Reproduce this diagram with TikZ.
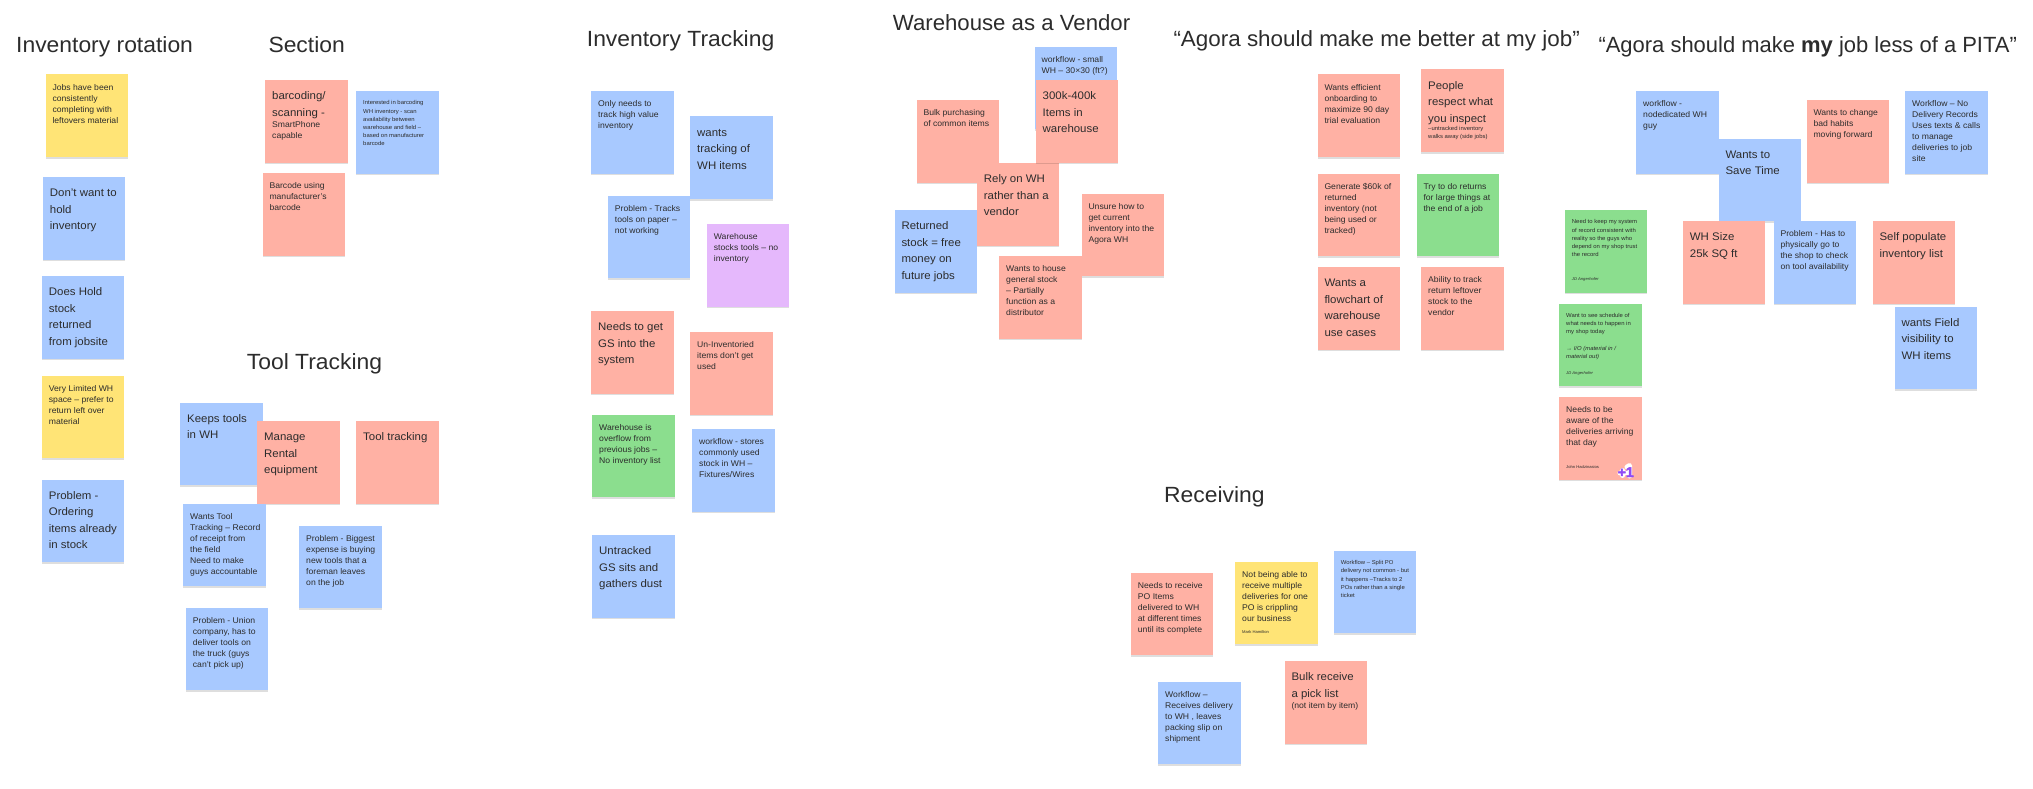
\documentclass[tikz,border=0pt]{standalone}
\usepackage{fontspec}
\setmainfont[FakeStretch=1.04]{Liberation Sans}
\newfontfamily\badgefont[FakeBold=3]{Liberation Sans Bold}
\usetikzlibrary{shadows}
\definecolor{nblue}{HTML}{A8C9FF}
\definecolor{nred}{HTML}{FFB1A4}
\definecolor{nyellow}{HTML}{FFE476}
\definecolor{ngreen}{HTML}{8BDE8E}
\definecolor{npurple}{HTML}{E5B8FC}
\definecolor{ink}{HTML}{2C2C2C}
\definecolor{badge}{HTML}{8F4BF5}
\newcommand{\szT}{\fontsize{22}{26}\selectfont}
\newcommand{\szL}{\fontsize{11}{16.5}\selectfont}
\newcommand{\szM}{\fontsize{8.3}{11}\selectfont}
\newcommand{\szS}{\fontsize{5.7}{8.2}\selectfont}
\newcommand{\szA}{\fontsize{4}{5}\selectfont}
\tikzset{
  sticky/.style={anchor=north west,rectangle,inner xsep=7pt,inner ysep=8pt,
    minimum width=82.5pt,minimum height=82.5pt,text=ink,
    drop shadow={shadow xshift=0pt,shadow yshift=-1.5pt,opacity=.13,fill=black}},
  title/.style={anchor=base west,inner sep=0pt,text=ink,font=\szT},
}
% name, colour, x, y, size, text
\newcommand{\note}[6]{\node[sticky,fill=#2] (#1) at (#3,#4)
  {\makebox[68.5pt][l]{\parbox[t][66.5pt][t]{80pt}{\raggedright #5\strut #6}}};}
\begin{document}
\begin{tikzpicture}[x=1pt,y=-1pt]
\useasboundingbox[fill=white] (0,0) rectangle (2033,789);
% titles
\node[title] (t1) at (16,52.3) {Inventory rotation};
\node[title] (t2) at (268.3,52.3) {Section};
\node[title] (t3) at (246.7,369.3) {Tool Tracking};
\node[title] (t4) at (586.7,46.7) {Inventory Tracking};
\node[title] (t5) at (892.7,30.3) {\scalebox{.97}[1]{Warehouse as a Vendor}};
\node[title] (t6) at (1173.3,46.7) {\scalebox{.98}[1]{“Agora should make me better at my job”}};
\node[title] (t7) at (1598.3,52.3) {\scalebox{.96}[1]{“Agora should make \textbf{my} job less of a PITA”}};
\node[title] (t8) at (1164,502.7) {Receiving};
% Inventory rotation
\note{a1}{nyellow}{45.3}{74.3}{\szM}{Jobs have been\\consistently\\completing with\\leftovers material}
\note{a2}{nblue}{42.7}{177}{\szL}{Don’t want to\\hold\\inventory}
\note{a3}{nblue}{41.7}{276}{\szL}{Does Hold\\stock\\returned\\from jobsite}
\note{a4}{nyellow}{41.7}{375.3}{\szM}{Very Limited WH\\space – prefer to\\return left over\\material}
\note{a5}{nblue}{41.7}{479.3}{\szL}{Problem -\\Ordering\\items already\\in stock}
% Section
\note{b1}{nred}{265}{80}{\szL}{barcoding/\\scanning -\par\szM SmartPhone\\capable}
\note{b2}{nblue}{356}{91}{\szS}{Interested in barcoding\\WH inventory - scan\\availability between\\warehouse and field –\\based on manufacturer\\barcode}
\note{b3}{nred}{262.3}{173}{\szM}{Barcode using\\manufacturer’s\\barcode}
% Tool tracking
\note{c1}{nblue}{180}{402.3}{\szL}{Keeps tools\\in WH}
\note{c2}{nred}{257}{421}{\szL}{Manage\\Rental\\equipment}
\note{c3}{nred}{356}{421}{\szL}{Tool tracking}
\note{c4}{nblue}{183}{503.3}{\szM}{Wants Tool\\Tracking – Record\\of receipt from\\the field\\Need to make\\guys accountable}
\note{c5}{nblue}{299}{525.3}{\szM}{Problem - Biggest\\expense is buying\\new tools that a\\foreman leaves\\on the job}
\note{c6}{nblue}{185.7}{607.7}{\szM}{Problem - Union\\company, has to\\deliver tools on\\the truck (guys\\can’t pick up)}
% Inventory Tracking
\note{d1}{nblue}{591}{91}{\szM}{Only needs to\\track high value\\inventory}
\note{d3}{nblue}{607.7}{195.3}{\szM}{Problem - Tracks\\tools on paper –\\not working}
\note{d2}{nblue}{690}{116.3}{\szL}{wants\\tracking of\\WH items}
\note{d4}{npurple}{706.7}{224}{\szM}{Warehouse\\stocks tools – no\\inventory}
\note{d5}{nred}{591}{311}{\szL}{Needs to get\\GS into the\\system}
\note{d6}{nred}{690}{332}{\szM}{Un-Inventoried\\items don’t get\\used}
\note{d7}{ngreen}{592}{414.3}{\szM}{Warehouse is\\overflow from\\previous jobs –\\No inventory list}
\note{d8}{nblue}{692}{429}{\szM}{workflow - stores\\commonly used\\stock in WH –\\Fixtures/Wires}
\note{d9}{nblue}{592}{535}{\szL}{Untracked\\GS sits and\\gathers dust}
% Warehouse as a vendor
\note{e1}{nblue}{1034.5}{46.7}{\szM}{workflow - small\\WH – 30×30 (ft?)}
\note{e2}{nred}{916.3}{100}{\szM}{Bulk purchasing\\of common items}
\note{e3}{nred}{976.7}{163}{\szL}{Rely on WH\\rather than a\\vendor}
\note{e4}{nred}{1035.5}{80}{\szL}{300k-400k\\Items in\\warehouse}
\note{e5}{nblue}{894.3}{210}{\szL}{Returned\\stock = free\\money on\\future jobs}
\note{e6}{nred}{1081.3}{193.7}{\szM}{Unsure how to\\get current\\inventory into the\\Agora WH}
\note{e7}{nred}{999}{256}{\szM}{Wants to house\\general stock\\– Partially\\function as a\\distributor}
% Better at my job
\note{f1}{nred}{1317.3}{74.3}{\szM}{Wants efficient\\onboarding to\\maximize 90 day\\trial evaluation}
\note{f2}{nred}{1421}{69.3}{\szL}{People\\respect what\\you inspect\par\szS –untracked inventory\\walks away (side jobs)}
\note{f3}{nred}{1317.3}{173.7}{\szM}{Generate \$60k of\\returned\\inventory (not\\being used or\\tracked)}
\note{f4}{ngreen}{1416.3}{173.3}{\szM}{Try to do returns\\for large things at\\the end of a job}
\note{f5}{nred}{1317.3}{267}{\szL}{Wants a\\flowchart of\\warehouse\\use cases}
\note{f6}{nred}{1421}{267}{\szM}{Ability to track\\return leftover\\stock to the\\vendor}
% Less of a PITA
\note{g1}{nblue}{1636}{91}{\szM}{workflow -\\nodedicated WH\\guy}
\note{g2}{nblue}{1718.3}{138.7}{\szL}{Wants to\\Save Time}
\note{g3}{nred}{1806.3}{100}{\szM}{Wants to change\\bad habits\\moving forward}
\note{g4}{nblue}{1905}{91}{\szM}{Workflow – No\\Delivery Records\\Uses texts \& calls\\to manage\\deliveries to job\\site}
\note{g5}{ngreen}{1564.7}{210}{\szS}{Need to keep my system\\of record consistent with\\reality so the guys who\\depend on my shop trust\\the record\par\vfill\szA\itshape JD Angerhofer\par\vspace{3pt}}
\note{g6}{nred}{1682.7}{221}{\szL}{WH Size\\25k SQ ft}
\note{g7}{nblue}{1773.3}{221}{\szM}{Problem - Has to\\physically go to\\the shop to check\\on tool availability}
\note{g8}{nred}{1872.3}{221}{\szL}{Self populate\\inventory list}
\note{g9}{nblue}{1894.3}{306.7}{\szL}{wants Field\\visibility to\\WH items}
\note{g10}{ngreen}{1559}{303.3}{\szS}{Want to see schedule of\\what needs to happen in\\my shop today\\[8.2pt]→ \textit{I/O (material in /\\material out)}\par\vfill\szA\itshape JD Angerhofer\par\vspace{3pt}}
\note{g11}{nred}{1559}{397}{\szM}{Needs to be\\aware of the\\deliveries arriving\\that day\par\vfill\szA John Hadzinasios\par\vspace{3pt}}
% +1 badge: white halo, then the text
\draw[white,line width=5pt,line cap=round,line join=round]
  (1620,473) -- (1625,473) (1622.5,470.5) -- (1622.5,475.5)
  (1627,467) -- (1629.5,465.5) -- (1629.5,476);
\node[anchor=base west,inner sep=0pt,text=badge,font=\fontsize{14}{14}\selectfont\badgefont] (plusone) at (1617.5,477) {+1};
% Receiving
\note{h1}{nred}{1130.7}{572.7}{\szM}{Needs to receive\\PO Items\\delivered to WH\\at different times\\until its complete}
\note{h2}{nyellow}{1235}{561.7}{\szM}{Not being able to\\receive multiple\\deliveries for one\\PO is crippling\\our business\par\vfill\szA Mark Hamilton\par\vspace{3pt}}
\note{h3}{nblue}{1333.7}{550.7}{\szS}{Workflow – Split PO\\delivery not common - but\\it happens –Tracks to 2\\POs rather than a single\\ticket}
\note{h4}{nred}{1284.3}{661}{\szL}{Bulk receive\\a pick list\par\szM (not item by item)}
\note{h5}{nblue}{1158}{681.3}{\szM}{Workflow –\\Receives delivery\\to WH , leaves\\packing slip on\\shipment}
\end{tikzpicture}
\end{document}
